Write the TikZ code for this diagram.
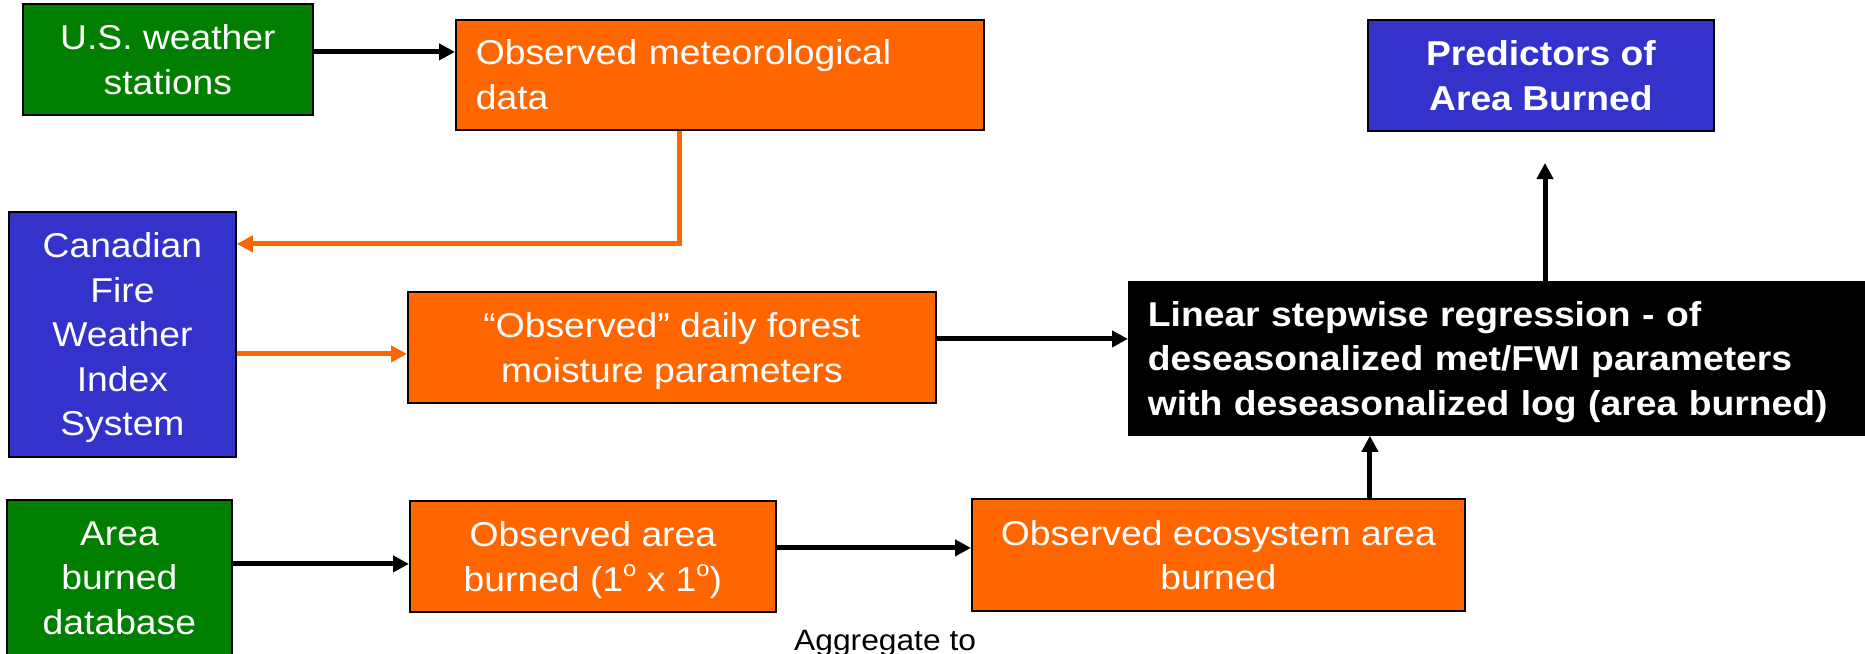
\documentclass[tikz,border=0pt]{standalone}
\usepackage{fontspec}
\setmainfont{Liberation Sans}[FakeStretch=1.08]
\usetikzlibrary{arrows.meta}
\definecolor{boxgreen}{HTML}{007F00}
\definecolor{boxorange}{HTML}{FF6600}
\definecolor{boxblue}{HTML}{3333CC}
\newcommand\degsup{\raisebox{0.42em}{\fontsize{22pt}{22pt}\selectfont o}}
\newcommand\nodepth[1]{\raisebox{0pt}[\height][0pt]{#1}}
\begin{document}
\begin{tikzpicture}[x=1pt,y=-1pt,
  basebox/.style={draw=black, line width=1.8pt, text=white, anchor=north west,
    inner sep=0pt, font=\fontsize{34.5pt}{44.5pt}\selectfont},
  box/.style={basebox, align=center, text depth=0pt},
  leftbox/.style={basebox, align=left},
  boldbox/.style={box, font=\fontsize{34.5pt}{44.5pt}\selectfont\bfseries},
  boldleftbox/.style={leftbox, font=\fontsize{34.5pt}{44.5pt}\selectfont\bfseries},
  blk/.style={line width=5pt, draw=black, -{Triangle[length=16pt,width=16pt]}},
  oarr/.style={line width=5pt, draw=boxorange, -{Triangle[length=16pt,width=16pt]}},
]
\useasboundingbox (0,0) rectangle (1865,653);

\node[box, fill=boxgreen, minimum width=290pt, minimum height=111pt] (us) at (22,3)
  {U.S. weather\\stations};
\node[leftbox, fill=boxorange, text width=488pt, inner xsep=20pt, minimum height=110pt] (met) at (455,19)
  {Observed meteorological\\data};
\node[box, fill=boxblue, minimum width=227pt, minimum height=245pt] (cffwi) at (8,211)
  {Canadian\\Fire\\Weather\\Index\\System};
\node[box, fill=boxorange, minimum width=528pt, minimum height=111pt] (forest) at (407,291)
  {“Observed” daily forest\\moisture parameters};
\node[box, fill=boxgreen, minimum width=225pt, minimum height=156pt] (db) at (6,499)
  {Area\\burned\\database};
\node[box, fill=boxorange, minimum width=366pt, minimum height=111pt] (area) at (409,500)
  {Observed area\\burned (1\degsup{} x 1\degsup)};
\node[box, fill=boxorange, minimum width=493pt, minimum height=112pt] (eco) at (971,498)
  {Observed ecosystem area\\burned};
\node[boldbox, fill=boxblue, minimum width=346pt, minimum height=111pt] (pred) at (1367,19)
  {Predictors of\\Area Burned};
\node[boldleftbox, fill=black, text width=707pt, inner xsep=19pt, minimum height=153pt] (reg) at (1128,281)
  {Linear stepwise regression - of\\deseasonalized met/FWI parameters\\\nodepth{with deseasonalized log (area burned)}};
\node[anchor=north west, inner sep=0pt, font=\fontsize{29.4pt}{35pt}\selectfont] (agg) at (794,630)
  {Aggregate to};

\coordinate (ptip) at (1545,163);

\draw[blk] ([yshift=7.5pt]us.east) coordinate (a1) -- (a1 -| met.west);
\draw[oarr] ([xshift=-40pt]met.south) |- ([yshift=90.5pt]cffwi.east);
\draw[oarr] ([yshift=-19.5pt]cffwi.east) coordinate (a3) -- (a3 -| forest.west);
\draw[blk] ([yshift=8.5pt]forest.east) coordinate (a4) -- (a4 -| reg.west);
\draw[blk] ([yshift=14pt]db.east) coordinate (a5) -- (a5 -| area.west);
\draw[blk] ([yshift=8.5pt]area.east) coordinate (a6) -- (a6 -| eco.west);
\draw[blk] ([xshift=151.5pt]eco.north) coordinate (a7) -- (a7 |- reg.south);
\draw[blk] (ptip |- reg.north) -- (ptip);
\end{tikzpicture}
\end{document}
